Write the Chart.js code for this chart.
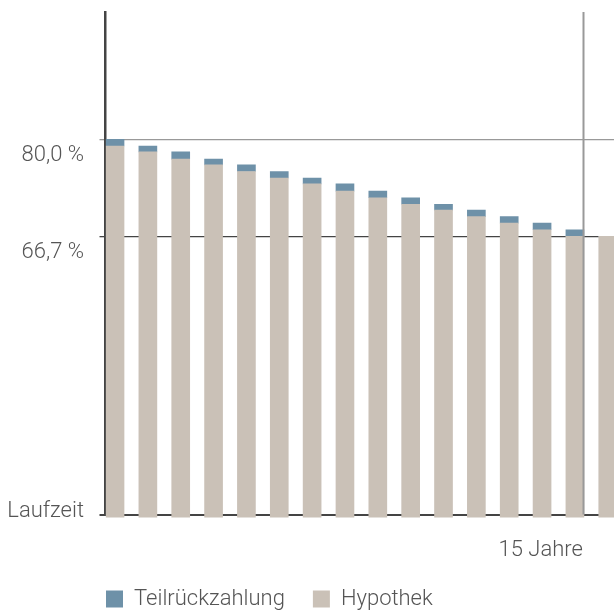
<!DOCTYPE html>
<html>
<head>
<meta charset="utf-8">
<script src="https://cdn.jsdelivr.net/npm/chart.js@4"></script>
<style>
  html, body { margin: 0; padding: 0; background: #fff; overflow: hidden; }
  canvas { display: block; }
</style>
</head>
<body>
<canvas id="chart" width="614" height="610"></canvas>
<script>
// Data
const years = [1, 2, 3, 4, 5, 6, 7, 8, 9, 10, 11, 12, 13, 14, 15, 16];
const hypothek = [79.1, 78.3, 77.3, 76.5, 75.6, 74.7, 73.9, 72.9, 72.0, 71.1, 70.3, 69.4, 68.5, 67.6, 66.7, 66.7];
const teilrueckzahlung = [0.9, 0.8, 1.0, 0.8, 0.9, 0.9, 0.8, 1.0, 0.9, 0.9, 0.8, 0.9, 0.9, 0.9, 0.9, 0];
const yTicks = [28.5, 66.7, 80];
const yTickLabels = ['Laufzeit', '66,7 %', '80,0 %'];
const markYear = 15;
const markLabel = '15 Jahre';

const textFont = '300 22px Roboto';
const textColor = '#555';

// Labels, year marker line
const extras = {
    id: 'extras',
    afterDatasetsDraw(chart) {
        const ctx = chart.ctx;
        const area = chart.chartArea;
        const bar = chart.getDatasetMeta(0).data[years.indexOf(markYear)];
        const x = Math.round(bar.x + bar.width / 2) - 0.5;
        ctx.save();
        ctx.strokeStyle = '#999';
        ctx.lineWidth = 2;
        ctx.beginPath();
        ctx.moveTo(x, area.top);
        ctx.lineTo(x, area.bottom);
        ctx.stroke();
        ctx.restore();
    },
    afterDraw(chart) {
        const ctx = chart.ctx;
        const y = chart.scales.y;
        const bar = chart.getDatasetMeta(0).data[years.indexOf(markYear)];
        ctx.save();
        ctx.font = textFont;
        ctx.fillStyle = textColor;
        ctx.textAlign = 'right';
        ctx.textBaseline = 'alphabetic';
        yTicks.forEach((v, i) => {
            const py = y.getPixelForValue(v);
            ctx.fillText(yTickLabels[i], 84, i === 0 ? py + 2 : py + 22);
        });
        ctx.fillText(markLabel, bar.x + bar.width / 2 - 1, 556);
        ctx.restore();
    }
};

new Chart(document.getElementById('chart').getContext('2d'), {
    type: 'bar',
    data: {
        labels: years,
        datasets: [{
            label: 'Hypothek',
            data: hypothek,
            backgroundColor: '#CAC1B7',
            barThickness: 18,
            clip: { left: 0, top: 0, right: 0, bottom: 3 }
        }, {
            label: 'Teilrückzahlung',
            data: teilrueckzahlung,
            backgroundColor: '#6E91A8',
            barThickness: 18,
            clip: { left: 0, top: 0, right: 0, bottom: 3 }
        }]
    },
    options: {
        responsive: false,
        animation: false,
        layout: { padding: { left: 78, top: 12, right: 0, bottom: 0 } },
        scales: {
            x: {
                type: 'linear',
                stacked: true,
                offset: false,
                min: 0.71,
                max: 16.19,
                grid: { display: false, offset: false },
                border: { display: false },
                ticks: { display: false },
                afterFit(scale) { scale.height = 45.5; }
            },
            y: {
                stacked: true,
                min: 28.5,
                max: 97.5,
                z: 1,
                afterBuildTicks(scale) { scale.ticks = yTicks.map(v => ({ value: v })); },
                afterFit(scale) { scale.width = 27.5; },
                ticks: { display: false },
                grid: {
                    drawTicks: true,
                    tickLength: 6,
                    color: ctx => ctx.tick && ctx.tick.value === 80 ? '#999' : '#444',
                    lineWidth: ctx => ctx.tick && ctx.tick.value === yTicks[0] ? 2 : 1.3
                },
                border: { display: true, color: '#444', width: 2.5 }
            }
        },
        plugins: {
            tooltip: { enabled: false },
            legend: {
                position: 'bottom',
                align: 'start',
                reverse: true,
                maxHeight: 50,
                labels: {
                    boxWidth: 17,
                    boxHeight: 17,
                    padding: 28,
                    color: textColor,
                    font: { family: 'Roboto', size: 22, weight: 300 }
                }
            }
        }
    },
    plugins: [extras]
});
</script>
</body>
</html>
